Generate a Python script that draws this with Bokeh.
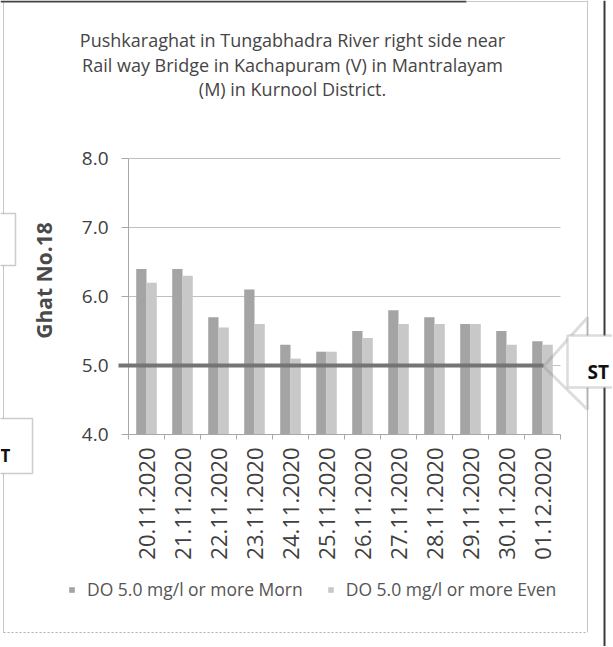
import math
from bokeh.plotting import figure
from bokeh.models import (Range1d, FixedTicker, NumeralTickFormatter, Label, LinearAxis,
                          PolyAnnotation, Arrow, Legend, LegendItem)
from bokeh.embed import file_html
from bokeh.resources import INLINE

# ---------------- data ----------------
title_lines = [
    "Pushkaraghat in Tungabhadra River right side near",
    "Rail way Bridge in Kachapuram (V) in Mantralayam",
    "(M) in Kurnool District.",
]
dates = ["20.11.2020", "21.11.2020", "22.11.2020", "23.11.2020", "24.11.2020",
         "25.11.2020", "26.11.2020", "27.11.2020", "28.11.2020", "29.11.2020",
         "30.11.2020", "01.12.2020"]
morning = [6.4, 6.4, 5.7, 6.1, 5.3, 5.2, 5.5, 5.8, 5.7, 5.6, 5.5, 5.35]
evening = [6.2, 6.3, 5.55, 5.6, 5.1, 5.2, 5.4, 5.6, 5.6, 5.6, 5.3, 5.3]
series_names = ["DO 5.0 mg/l or more Morn", "DO 5.0 mg/l or more Even"]
y_ticks = [4.0, 5.0, 6.0, 7.0, 8.0]
y_title = "Ghat No.18"
standard_do = 5.0
callout_text = "ST"
left_callout_text = "T"

FONT = "Open Sans"
TEXT = "#404040"
AX = "#a8a8a8"

W, H = 612, 646          # figure size
PX0, PY0 = 0, 0          # page offset of the canvas
n = len(dates)

# plot area in page pixels: x 0..n -> 128..560, y 4..8 -> 434..158
XL, XR = 128, 560
YB, YT = 434, 158
xs_per = (XR - XL) / n
ys_per = (YB - YT) / (y_ticks[-1] - y_ticks[0])
x_start = (PX0 - XL) / xs_per
x_end = x_start + W / xs_per
y_start = y_ticks[0] - (PY0 + H - YB) / ys_per
y_end = y_start + H / ys_per


def sx(X):
    return X - PX0


def sy(Y):
    return PY0 + H - Y


def line(x0, y0, x1, y1, color, width=1, dash="solid"):
    p.add_layout(Arrow(end=None, x_start=sx(x0), y_start=sy(y0), x_end=sx(x1), y_end=sy(y1),
                       start_units="screen", end_units="screen", line_color=color,
                       line_width=width, line_dash=dash))


centers = [i + 0.5 for i in range(n)]
bw = 0.286
off = 0.143

p = figure(width=W, height=H, x_range=Range1d(x_start, x_end), y_range=Range1d(y_start, y_end),
           output_backend="svg", toolbar_location=None, x_axis_type=None, y_axis_type=None,
           min_border=0, min_border_left=0, min_border_right=0, min_border_top=0,
           min_border_bottom=0, background_fill_color="white", border_fill_color="white",
           outline_line_color=None)
p.grid.visible = False

# gridlines
p.segment(x0=0, x1=n, y0=y_ticks[1:], y1=y_ticks[1:], line_color="#c0c0c0", line_width=1)

r_m = p.vbar(x=[c - off for c in centers], top=morning, bottom=y_ticks[0], width=bw,
             fill_color="#a4a4a4", line_color=None)
r_e = p.vbar(x=[c + off for c in centers], top=evening, bottom=y_ticks[0], width=bw,
             fill_color="#c8c8c8", line_color=None)

# y axis drawn at x = 0
ya = LinearAxis(fixed_location=0, bounds=(y_ticks[0], y_ticks[-1]),
                ticker=FixedTicker(ticks=y_ticks),
                formatter=NumeralTickFormatter(format="0.0"))
ya.major_label_text_font = FONT
ya.major_label_text_font_size = "19px"
ya.major_label_text_color = TEXT
ya.major_tick_out = 7
ya.major_tick_in = 0
ya.minor_tick_out = 0
ya.minor_tick_in = 0
ya.major_label_standoff = 13
ya.axis_line_color = AX
ya.major_tick_line_color = AX
p.add_layout(ya, "left")

# x axis drawn at y = 4.0
xa = LinearAxis(fixed_location=y_ticks[0], bounds=(0, n),
                ticker=FixedTicker(ticks=centers, minor_ticks=list(range(n + 1))))
xa.major_label_overrides = {c: d for c, d in zip(centers, dates)}
xa.major_label_orientation = math.pi / 2
xa.major_label_text_font = FONT
xa.major_label_text_font_size = "22px"
xa.major_label_text_color = TEXT
xa.major_label_standoff = 8
xa.major_tick_out = 0
xa.major_tick_in = 0
xa.minor_tick_out = 5
xa.minor_tick_in = 0
xa.minor_tick_line_color = AX
xa.axis_line_color = AX
p.add_layout(xa, "below")

# title
for text, Y in zip(title_lines, [39, 64, 88]):
    p.add_layout(Label(x=sx(292), y=sy(Y), x_units="screen", y_units="screen", text=text,
                       text_align="center", text_baseline="alphabetic", text_font=FONT,
                       text_font_size="18px", text_color="#454545"))

# y title
p.add_layout(Label(x=sx(43), y=sy(280), x_units="screen", y_units="screen", text=y_title,
                   angle=math.pi / 2, text_align="center", text_baseline="middle",
                   text_font=FONT, text_font_size="21px", text_font_style="bold",
                   text_color="#4a4a4a"))

# standard line at 5.0
p.add_layout(Arrow(end=None, x_start=(118 - XL) / xs_per, y_start=standard_do,
                   x_end=(543 - XL) / xs_per, y_end=standard_do,
                   start_units="data", end_units="data", line_color="#747474", line_width=4))

# borders of the scanned chart / page
line(3, 0, 3, 632, "#c8c8c8", 1)
line(0, 1, 466, 1, "#444444", 2)
line(466, 1, 587, 1, "#c8c8c8", 1)
line(587, 0, 587, 632, "#c4c4c4", 1)
line(604, 0, 604, 660, "#3a3a3a", 2)
line(3, 632, 587, 632, "#b0b0b0", 1, "2 2")

# right callout arrow
p.add_layout(PolyAnnotation(xs=[sx(543), sx(587), sx(587)], ys=[sy(366), sy(317), sy(409)],
                            xs_units="screen", ys_units="screen", fill_alpha=0,
                            line_color="#8a8a8a", line_width=3))
p.add_layout(PolyAnnotation(xs=[sx(567), sx(640), sx(640), sx(567)],
                            ys=[sy(335), sy(335), sy(387), sy(387)],
                            xs_units="screen", ys_units="screen", fill_color="white", fill_alpha=1,
                            line_color="#8a8a8a", line_width=2.5))
p.add_layout(Label(x=sx(587), y=sy(371), x_units="screen", y_units="screen", text=callout_text,
                   text_align="left", text_baseline="alphabetic", text_font=FONT,
                   text_font_size="19px", text_font_style="bold", text_color="#111111"))

# left callout boxes
p.add_layout(PolyAnnotation(xs=[sx(-30), sx(15), sx(15), sx(-30)],
                            ys=[sy(213), sy(213), sy(265), sy(265)],
                            xs_units="screen", ys_units="screen", fill_color="white", fill_alpha=1,
                            line_color="#555555", line_width=1.5))
p.add_layout(PolyAnnotation(xs=[sx(-30), sx(32), sx(32), sx(-30)],
                            ys=[sy(418), sy(418), sy(473), sy(473)],
                            xs_units="screen", ys_units="screen", fill_color="white", fill_alpha=1,
                            line_color="#555555", line_width=1.5))
p.add_layout(Label(x=sx(0), y=sy(455), x_units="screen", y_units="screen", text=left_callout_text,
                   text_align="left", text_baseline="alphabetic", text_font=FONT,
                   text_font_size="17px", text_font_style="bold", text_color="#111111"))

# legend
legend = Legend(items=[LegendItem(label=series_names[0], renderers=[r_m]),
                       LegendItem(label=series_names[1], renderers=[r_e])],
                orientation="horizontal", location=(sx(68), sy(601)),
                glyph_width=7, glyph_height=7, label_standoff=12, spacing=24,
                padding=0, margin=0, border_line_color=None, background_fill_alpha=0,
                label_text_font=FONT, label_text_font_size="17.5px", label_text_color="#555555")
p.add_layout(legend)

open("out.html", "w").write(file_html(p, INLINE))
